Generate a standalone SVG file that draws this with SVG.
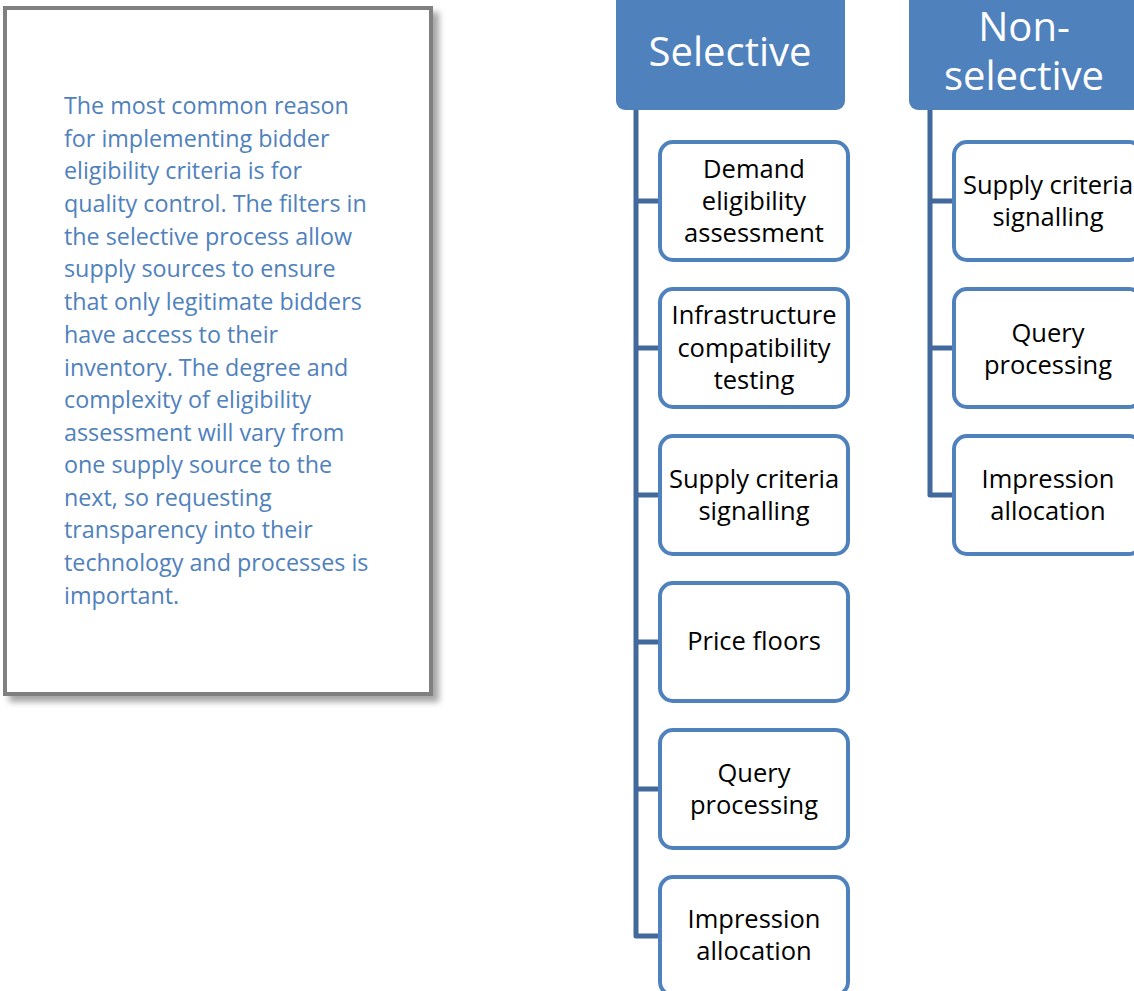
<svg xmlns="http://www.w3.org/2000/svg" width="1134" height="991" viewBox="0 0 1134 991">
  <defs>
    <filter id="shadow" x="-10%" y="-10%" width="125%" height="125%">
      <feDropShadow dx="6" dy="6" stdDeviation="3" flood-color="#000" flood-opacity="0.35"/>
    </filter>
  </defs>
  <style>
    .note { fill: #ffffff; stroke: #808080; stroke-width: 4; }
    .note-text { font-family: "Open Sans", "Noto Sans", sans-serif; font-size: 23.3px; fill: #4f81bd; }
    .head { fill: #4f81bd; }
    .head-text { font-family: "Open Sans", "Noto Sans", sans-serif; font-size: 40px; fill: #ffffff; text-anchor: middle; }
    .item { fill: #ffffff; stroke: #4f81bd; stroke-width: 4; }
    .item-text { font-family: "Open Sans", "Noto Sans", sans-serif; font-size: 25.5px; fill: #000000; text-anchor: middle; }
    .link { fill: none; stroke: #41699b; stroke-width: 5; stroke-linejoin: round; }
  </style>

  <!-- explanatory note -->
  <g id="note">
    <rect class="note" x="5" y="8" width="426" height="686" filter="url(#shadow)"/>
    <text class="note-text" x="64">
      <tspan x="64" y="114">The most common reason</tspan>
      <tspan x="64" y="147">for implementing bidder</tspan>
      <tspan x="64" y="179">eligibility criteria is for</tspan>
      <tspan x="64" y="212">quality control. The filters in</tspan>
      <tspan x="64" y="245">the selective process allow</tspan>
      <tspan x="64" y="277">supply sources to ensure</tspan>
      <tspan x="64" y="310">that only legitimate bidders</tspan>
      <tspan x="64" y="343">have access to their</tspan>
      <tspan x="64" y="376">inventory. The degree and</tspan>
      <tspan x="64" y="408">complexity of eligibility</tspan>
      <tspan x="64" y="441">assessment will vary from</tspan>
      <tspan x="64" y="473">one supply source to the</tspan>
      <tspan x="64" y="506">next, so requesting</tspan>
      <tspan x="64" y="538">transparency into their</tspan>
      <tspan x="64" y="571">technology and processes is</tspan>
      <tspan x="64" y="604">important.</tspan>
    </text>
  </g>

  <!-- connectors -->
  <g id="connectors">
    <path class="link" d="M636 110 V936 H660 M636 201 H660 M636 348 H660 M636 495 H660 M636 642 H660 M636 789 H660"/>
    <path class="link" d="M930 110 V495 H954 M930 201 H954 M930 348 H954"/>
  </g>

  <!-- selective column -->
  <g id="selective">
    <rect class="head" x="616" y="-12" width="229" height="122" rx="9"/>
    <text class="head-text" x="730" y="66">Selective</text>
  </g>
  <g id="sel-demand">
    <rect class="item" x="660" y="142" width="188" height="118" rx="13"/>
    <text class="item-text"><tspan x="754" y="178">Demand</tspan><tspan x="754" y="210">eligibility</tspan><tspan x="754" y="242">assessment</tspan></text>
  </g>
  <g id="sel-infra">
    <rect class="item" x="660" y="289" width="188" height="118" rx="13"/>
    <text class="item-text"><tspan x="754" y="324">Infrastructure</tspan><tspan x="754" y="357">compatibility</tspan><tspan x="754" y="389">testing</tspan></text>
  </g>
  <g id="sel-supply">
    <rect class="item" x="660" y="436" width="188" height="118" rx="13"/>
    <text class="item-text"><tspan x="754" y="488">Supply criteria</tspan><tspan x="754" y="520">signalling</tspan></text>
  </g>
  <g id="sel-price">
    <rect class="item" x="660" y="583" width="188" height="118" rx="13"/>
    <text class="item-text"><tspan x="754" y="650">Price floors</tspan></text>
  </g>
  <g id="sel-query">
    <rect class="item" x="660" y="730" width="188" height="118" rx="13"/>
    <text class="item-text"><tspan x="754" y="782">Query</tspan><tspan x="754" y="814">processing</tspan></text>
  </g>
  <g id="sel-impression">
    <rect class="item" x="660" y="877" width="188" height="118" rx="13"/>
    <text class="item-text"><tspan x="754" y="928">Impression</tspan><tspan x="754" y="960">allocation</tspan></text>
  </g>

  <!-- non-selective column -->
  <g id="non-selective">
    <rect class="head" x="909" y="-12" width="232" height="122" rx="9"/>
    <text class="head-text"><tspan x="1024" y="41">Non-</tspan><tspan x="1024" y="90">selective</tspan></text>
  </g>
  <g id="non-supply">
    <rect class="item" x="954" y="142" width="188" height="118" rx="13"/>
    <text class="item-text"><tspan x="1048" y="194">Supply criteria</tspan><tspan x="1048" y="226">signalling</tspan></text>
  </g>
  <g id="non-query">
    <rect class="item" x="954" y="289" width="188" height="118" rx="13"/>
    <text class="item-text"><tspan x="1048" y="342">Query</tspan><tspan x="1048" y="374">processing</tspan></text>
  </g>
  <g id="non-impression">
    <rect class="item" x="954" y="436" width="188" height="118" rx="13"/>
    <text class="item-text"><tspan x="1048" y="488">Impression</tspan><tspan x="1048" y="520">allocation</tspan></text>
  </g>
</svg>
